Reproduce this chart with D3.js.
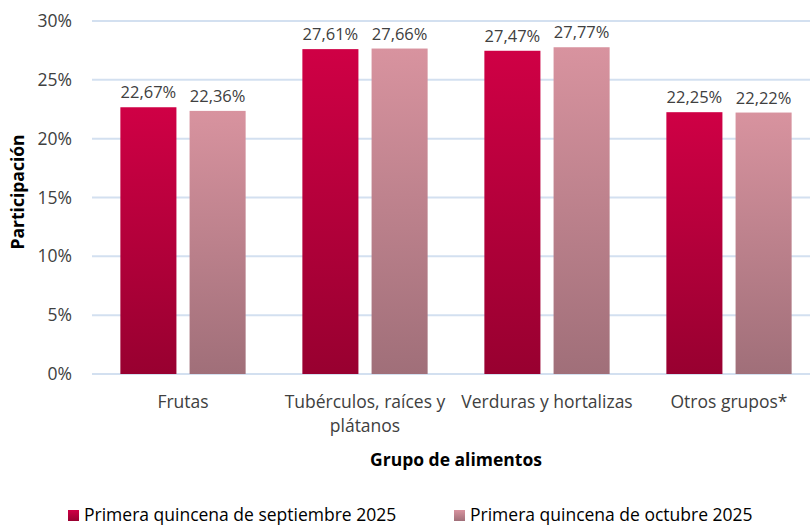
<!DOCTYPE html>
<html>
<head>
<meta charset="utf-8">
<script src="https://cdn.jsdelivr.net/npm/d3@7"></script>
<style>
  body { margin: 0; background: #fff; }
  text { font-family: "Open Sans", "Noto Sans", sans-serif; }
</style>
</head>
<body>
<div id="chart"></div>
<script>
var categories = ["Frutas", "Tubérculos, raíces y plátanos", "Verduras y hortalizas", "Otros grupos*"];
var categoryLines = [["Frutas"], ["Tubérculos, raíces y", "plátanos"], ["Verduras y hortalizas"], ["Otros grupos*"]];
var seriesNames = ["Primera quincena de septiembre 2025", "Primera quincena de octubre 2025"];
var septiembre = [22.67, 27.61, 27.47, 22.25];
var octubre = [22.36, 27.66, 27.77, 22.22];
var yTicks = [0, 5, 10, 15, 20, 25, 30];

var width = 810, height = 525;
var margin = {top: 21, right: -10, bottom: 151, left: 92};

var svg = d3.select("#chart").append("svg")
    .attr("width", width)
    .attr("height", height);

// gradients for the two series
var defs = svg.append("defs");
var g1 = defs.append("linearGradient").attr("id", "grad0").attr("x1", 0).attr("y1", 0).attr("x2", 0).attr("y2", 1);
g1.append("stop").attr("offset", "0%").attr("stop-color", "#cf0045");
g1.append("stop").attr("offset", "100%").attr("stop-color", "#980030");
var g2 = defs.append("linearGradient").attr("id", "grad1").attr("x1", 0).attr("y1", 0).attr("x2", 0).attr("y2", 1);
g2.append("stop").attr("offset", "0%").attr("stop-color", "#d8939f");
g2.append("stop").attr("offset", "100%").attr("stop-color", "#a06f79");

var x = d3.scaleBand()
    .domain(categories)
    .range([margin.left, width - margin.right]);

var x1 = d3.scaleBand()
    .domain([0, 1])
    .range([0, x.bandwidth()])
    .paddingInner(0.19)
    .paddingOuter(0.41);

var y = d3.scaleLinear()
    .domain([0, 30])
    .range([height - margin.bottom, margin.top]);

// gridlines
svg.append("g")
    .selectAll("line")
    .data(yTicks)
    .enter().append("line")
    .attr("x1", margin.left)
    .attr("x2", width)
    .attr("y1", function (d) { return y(d); })
    .attr("y2", function (d) { return y(d); })
    .attr("stroke", "#d3e0f0")
    .attr("stroke-width", 2);

// y axis labels
var yAxis = d3.axisLeft(y)
    .tickValues(yTicks)
    .tickFormat(function (d) { return d + "%"; })
    .tickSize(0)
    .tickPadding(20);

svg.append("g")
    .attr("transform", "translate(" + margin.left + ",0)")
    .call(yAxis)
    .call(function (g) { g.select(".domain").remove(); })
    .selectAll("text")
    .attr("font-size", "17.5px")
    .attr("font-family", "\"Open Sans\", sans-serif")
    .attr("fill", "#404040");

var series = [septiembre, octubre];

var groups = svg.append("g")
    .selectAll("g")
    .data(categories)
    .enter().append("g")
    .attr("transform", function (d) { return "translate(" + x(d) + ",0)"; });

groups.selectAll("rect")
    .data(function (d, i) { return series.map(function (s, k) { return {k: k, v: s[i]}; }); })
    .enter().append("rect")
    .attr("x", function (d) { return x1(d.k); })
    .attr("y", function (d) { return y(d.v); })
    .attr("width", x1.bandwidth())
    .attr("height", function (d) { return y(0) - y(d.v); })
    .attr("fill", function (d) { return "url(#grad" + d.k + ")"; });

groups.selectAll("text.val")
    .data(function (d, i) { return series.map(function (s, k) { return {k: k, v: s[i]}; }); })
    .enter().append("text")
    .attr("class", "val")
    .attr("x", function (d) { return x1(d.k) + x1.bandwidth() / 2; })
    .attr("y", function (d) { return y(d.v) - 9; })
    .attr("text-anchor", "middle")
    .attr("font-size", "16.5px")
    .attr("fill", "#404040")
    .text(function (d) { return d.v.toFixed(2).replace(".", ",") + "%"; });

// x category labels
groups.append("text")
    .attr("text-anchor", "middle")
    .attr("font-size", "17.5px")
    .attr("fill", "#404040")
    .selectAll("tspan")
    .data(function (d, i) { return categoryLines[i]; })
    .enter().append("tspan")
    .attr("x", x.bandwidth() / 2)
    .attr("y", function (d, j) { return 408 + j * 24; })
    .text(function (d) { return d; });

// axis titles
svg.append("text")
    .attr("x", 456)
    .attr("y", 466)
    .attr("text-anchor", "middle")
    .attr("font-size", "17.5px")
    .attr("font-weight", "bold")
    .attr("fill", "#000")
    .text("Grupo de alimentos");

svg.append("text")
    .attr("transform", "translate(24,192) rotate(-90)")
    .attr("text-anchor", "middle")
    .attr("font-size", "17.5px")
    .attr("font-weight", "bold")
    .attr("fill", "#000")
    .text("Participación");

// legend
var legendX = [68, 454];
var legend = svg.append("g")
    .selectAll("g")
    .data(seriesNames)
    .enter().append("g")
    .attr("transform", function (d, i) { return "translate(" + legendX[i] + ",510)"; });

legend.append("rect")
    .attr("width", 11)
    .attr("height", 11)
    .attr("fill", function (d, i) { return "url(#grad" + i + ")"; });

legend.append("text")
    .attr("x", 16)
    .attr("y", 11)
    .attr("font-size", "17.5px")
    .attr("fill", "#000")
    .text(function (d) { return d; });
</script>
</body>
</html>
